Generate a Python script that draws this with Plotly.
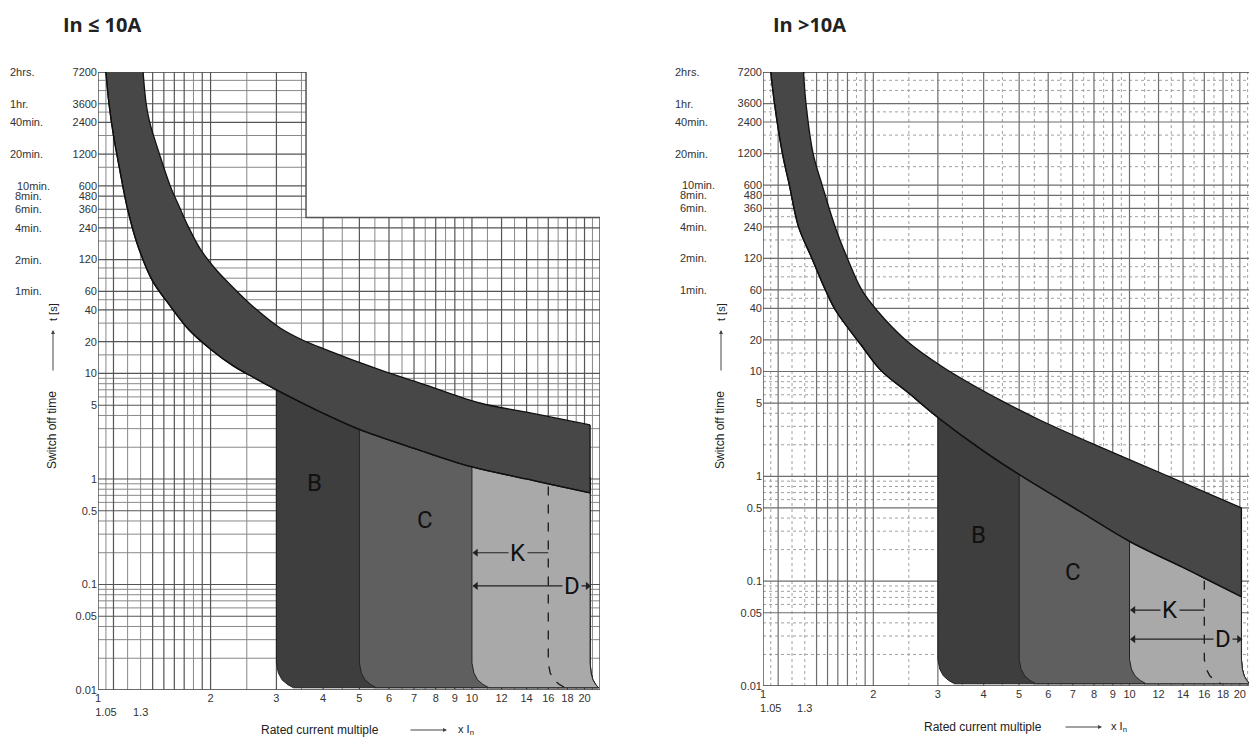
import numpy as np
import plotly.graph_objects as go

# --- оси и подписи ---
y_ticks = [0.01, 0.05, 0.1, 0.5, 1, 5, 10, 20, 40, 60, 120, 240, 360, 480, 600, 1200, 2400, 3600, 7200]
y_tick_text = ["0.01", "0.05", "0.1", "0.5", "1", "5", "10", "20", "40", "60",
               "120", "240", "360", "480", "600", "1200", "2400", "3600", "7200"]
time_names = ["2hrs.", "1hr.", "40min.", "20min.", "10min.", "8min.", "6min.", "4min.", "2min.", "1min."]
time_name_vals = [7200, 3600, 2400, 1200, 600, 480, 360, 240, 120, 60]
x_ticks = [1, 1.05, 1.3, 2, 3, 4, 5, 6, 7, 8, 9, 10, 12, 14, 16, 18, 20]
x_tick_text = ["1", "<br>1.05", "<br>1.3", "2", "3", "4", "5", "6", "7", "8", "9",
               "10", "12", "14", "16", "18", "20"]

# сетка
grid_x_major = [1.1, 1.4, 1.5, 1.6, 1.7, 1.9, 2, 3, 4, 5, 6, 7, 8, 9, 10, 12, 14, 16, 18, 20]
grid_x_minor = [1.05, 1.2, 1.3, 1.8, 2.5, 3.5, 4.5, 5.5, 6.5, 7.5, 8.5, 9.5, 11, 13, 15, 17, 19, 21]
grid_t_major = [0.01, 0.05, 0.1, 0.5, 1, 5, 10, 20, 40, 60, 120, 240, 360, 480, 600, 1200, 2400, 3600, 7200]
grid_t_minor = [0.02, 0.03, 0.04, 0.06, 0.07, 0.08, 0.09, 0.2, 0.3, 0.4, 0.6, 0.7, 0.8, 0.9,
                2, 3, 4, 6, 7, 8, 9, 15, 30, 50, 80, 100, 180, 300, 900, 1800, 3000, 4800, 6000]

# --- In <= 10A ---
left_upper_x = [1.32, 1.345, 1.375, 1.46, 1.56, 1.65, 1.75, 1.88, 2.05, 2.3, 2.6, 3.07, 3.5, 4.0,
                5.68, 7.5, 10.5, 14.0, 20.7]
left_upper_t = [7200, 3600, 2400, 1200, 600, 380, 240, 150, 100, 65, 43, 27, 21, 17.2,
                10.8, 7.8, 5.25, 4.3, 3.25]
left_lower_x = [1.05, 1.07, 1.10, 1.14, 1.20, 1.28, 1.40, 1.55, 1.75, 2.0, 2.3, 2.6, 3.0, 4.0, 5.0,
                7.0, 10.0, 14.0, 16.0, 20.7]
left_lower_t = [7200, 3600, 1800, 900, 360, 160, 75, 45, 26, 17, 11.8, 9.2, 7.0, 4.2, 2.95,
                1.95, 1.3, 1.0, 0.90, 0.74]
left_step_x, left_step_t = 3.6, 300
left_k_t, left_d_t = 0.20, 0.097
left_labels = {"B": (3.8, 0.92), "C": (7.5, 0.41), "K": (13.3, 0.20), "D": (18.5, 0.097)}

# --- In > 10A ---
right_upper_x = [1.29, 1.31, 1.37, 1.45, 1.58, 1.70, 1.86, 2.05, 2.45, 3.1, 4.43, 5.69, 8.3, 12.0, 20.2]
right_upper_t = [7200, 3600, 1200, 600, 230, 120, 60, 38, 20, 11, 5.36, 3.45, 1.91, 1.10, 0.50]
right_lower_x = [1.05, 1.075, 1.13, 1.18, 1.25, 1.36, 1.48, 1.58, 1.85, 2.1, 2.5, 3.0, 4.0, 5.0,
                 7.5, 10.0, 14.0, 16.0, 20.2]
right_lower_t = [7200, 3600, 1200, 600, 240, 120, 60, 38, 18, 10.2, 6.2, 3.65, 1.74, 1.04,
                 0.44, 0.24, 0.135, 0.107, 0.071]
right_k_t, right_d_t = 0.053, 0.028
right_labels = {"B": (3.88, 0.276), "C": (7.0, 0.122), "K": (12.9, 0.053), "D": (18.0, 0.028)}

# границы зон мгновенного расцепления
zone_edges = [3, 5, 10]
k_edge = 16
corner_t = [0.018, 0.0145, 0.0125, 0.0113, 0.0105]
corner_xf = [1.0, 1.012, 1.035, 1.07, 1.11]

X_MAX = 22
T_MIN, T_MAX = 0.01, 7200
HIDE = 1.4  # зоны заходят под полосу, чтобы не было щелей

band_color = "#474747"
zone_colors = ["#3e3e3e", "#5f5f5f", "#a9a9a9"]
edge_color = "#222222"
font_family = "Liberation Sans, Arial, sans-serif"

# страница имеет отступ 8px у body
OFF = 8
PAGE_W, PAGE_H = 1257, 743
W, H = PAGE_W - OFF, PAGE_H - OFF
left_px = dict(x0=98, x1=600, y0=72, y1=690)
right_px = dict(x0=763, x1=1255, y0=72, y1=686)
time_name_px = [8, 8, 8, 8, 15, 13, 13, 13, 13, 13]
right_shift_px = 665


def px_x(p):
    return (p - OFF) / W


def px_y(p):
    return 1 - (p - OFF) / H


fig = go.Figure()


def grid_lines(values, vertical, xref, yref, color, width, dash, step=None):
    xs, ys = [], []
    for v in values:
        if vertical:
            top = T_MAX if (step is None or v <= step[0]) else step[1]
            xs += [v, v, None]
            ys += [T_MIN, top, None]
        else:
            right = X_MAX if (step is None or v <= step[1]) else step[0]
            xs += [1, right, None]
            ys += [v, v, None]
    fig.add_trace(go.Scatter(x=xs, y=ys, mode="lines", xaxis=xref, yaxis=yref,
                             line=dict(color=color, width=width, dash=dash),
                             hoverinfo="skip"))


def zone_polygon(xb, xe, lx, lt):
    top = [(x, t * HIDE) for x, t in zip(lx, lt) if xb <= x <= xe]
    xs = [p[0] for p in top]
    ys = [p[1] for p in top]
    for ct, f in zip(corner_t, corner_xf):
        xs.append(xe * f ** 0.5)
        ys.append(ct)
    for ct, f in reversed(list(zip(corner_t, corner_xf))):
        xs.append(xb * f)
        ys.append(ct)
    xs.append(xs[0])
    ys.append(ys[0])
    return xs, ys


def draw_chart(ux, ut, lx, lt, xref, yref, step, k_t, d_t, labels, grid_style):
    major_c, minor_c, minor_dash = grid_style
    grid_lines(grid_x_minor, True, xref, yref, minor_c, 1, minor_dash, step)
    grid_lines(grid_t_minor, False, xref, yref, minor_c, 1, minor_dash, step)
    grid_lines(grid_x_major, True, xref, yref, major_c, 1.2, "solid", step)
    grid_lines(grid_t_major, False, xref, yref, major_c, 1.2, "solid", step)

    # рамка
    if step is None:
        fx = [1, 1, X_MAX, X_MAX, 1]
        fy = [T_MIN, T_MAX, T_MAX, T_MIN, T_MIN]
    else:
        fx = [1, 1, step[0], step[0], X_MAX, X_MAX, 1]
        fy = [T_MIN, T_MAX, T_MAX, step[1], step[1], T_MIN, T_MIN]
    fig.add_trace(go.Scatter(x=fx, y=fy, mode="lines", xaxis=xref, yaxis=yref,
                             line=dict(color="#555555", width=1.5), hoverinfo="skip"))

    x_end = lx[-1]
    # зоны B, C, K/D
    for xb, col in zip(zone_edges, zone_colors):
        zx, zy = zone_polygon(xb, x_end, lx, lt)
        fig.add_trace(go.Scatter(x=zx, y=zy, mode="lines", fill="toself", fillcolor=col,
                                 xaxis=xref, yaxis=yref,
                                 line=dict(color=edge_color, width=1), hoverinfo="skip"))

    # пунктир K
    t16 = lt[lx.index(k_edge)] * HIDE
    kx = [k_edge] + [k_edge * f for f in corner_xf]
    ky = [t16] + corner_t
    fig.add_trace(go.Scatter(x=kx, y=ky, mode="lines", xaxis=xref, yaxis=yref,
                             line=dict(color="#1a1a1a", width=1.3, dash="dash"), hoverinfo="skip"))

    # тепловая полоса: нижняя кривая, затем верхняя с заливкой между ними
    curve_line = dict(color="#111111", width=1.3, shape="spline", smoothing=1)
    fig.add_trace(go.Scatter(x=lx, y=lt, mode="lines", xaxis=xref, yaxis=yref,
                             line=curve_line, hoverinfo="skip"))
    fig.add_trace(go.Scatter(x=ux, y=ut, mode="lines", xaxis=xref, yaxis=yref,
                             fill="tonexty", fillcolor=band_color,
                             line=curve_line, hoverinfo="skip"))
    fig.add_trace(go.Scatter(x=lx, y=lt, mode="lines", xaxis=xref, yaxis=yref,
                             line=curve_line, hoverinfo="skip"))
    # правый торец полосы
    fig.add_trace(go.Scatter(x=[ux[-1], lx[-1]], y=[ut[-1], lt[-1]], mode="lines",
                             xaxis=xref, yaxis=yref,
                             line=dict(color="#111111", width=1.3), hoverinfo="skip"))

    # линии K и D
    for t, xe in [(k_t, k_edge), (d_t, x_end)]:
        fig.add_trace(go.Scatter(x=[10.1, xe], y=[t, t], mode="lines", xaxis=xref, yaxis=yref,
                                 line=dict(color="#222222", width=1.2), hoverinfo="skip"))
    fig.add_trace(go.Scatter(x=[10.25, 10.25, x_end * 0.985], y=[k_t, d_t, d_t], mode="markers",
                             xaxis=xref, yaxis=yref,
                             marker=dict(symbol=["triangle-left", "triangle-left", "triangle-right"],
                                         size=7, color="#222222"),
                             hoverinfo="skip"))

    ax_name = "x" if xref == "x" else "x2"
    ay_name = "y" if yref == "y" else "y2"
    for name, (x, t) in labels.items():
        bg = zone_colors[2] if name in ("K", "D") else None
        fig.add_annotation(x=np.log10(x), y=np.log10(t), xref=ax_name, yref=ay_name,
                           text=name, showarrow=False, bgcolor=bg, borderpad=1,
                           xanchor="center", yanchor="middle",
                           font=dict(family="Roboto, sans-serif", size=24, color="#111111"))


draw_chart(left_upper_x, left_upper_t, left_lower_x, left_lower_t, "x", "y",
           (left_step_x, left_step_t), left_k_t, left_d_t, left_labels,
           ("#555555", "#888888", "solid"))
draw_chart(right_upper_x, right_upper_t, right_lower_x, right_lower_t, "x2", "y2",
           None, right_k_t, right_d_t, right_labels,
           ("#6e6e6e", "#a0a0a0", "dot"))

axis_common = dict(type="log", showgrid=False, zeroline=False, showline=False, ticks="",
                   automargin=False, tickangle=0,
                   tickfont=dict(family=font_family, size=11, color="#333333"))
fig.update_layout(
    width=W, height=H, margin=dict(l=0, r=0, t=0, b=0),
    paper_bgcolor="white", plot_bgcolor="white", showlegend=False,
    xaxis=dict(domain=[px_x(left_px["x0"]), px_x(left_px["x1"])], range=[0, np.log10(X_MAX)],
               tickmode="array", tickvals=x_ticks, ticktext=x_tick_text, anchor="y", **axis_common),
    yaxis=dict(domain=[px_y(left_px["y1"]), px_y(left_px["y0"])],
               range=[np.log10(T_MIN), np.log10(T_MAX)],
               tickmode="array", tickvals=y_ticks, ticktext=y_tick_text, anchor="x", **axis_common),
    xaxis2=dict(domain=[px_x(right_px["x0"]), px_x(right_px["x1"])], range=[0, np.log10(X_MAX)],
                tickmode="array", tickvals=x_ticks, ticktext=x_tick_text, anchor="y2", **axis_common),
    yaxis2=dict(domain=[px_y(right_px["y1"]), px_y(right_px["y0"])],
                range=[np.log10(T_MIN), np.log10(T_MAX)],
                tickmode="array", tickvals=y_ticks, ticktext=y_tick_text, anchor="x2", **axis_common),
)


def page_text(text, cx, cy, size, angle=0, bold=False, family=font_family):
    fig.add_annotation(x=px_x(cx), y=px_y(cy), xref="paper", yref="paper",
                       text="<b>" + text + "</b>" if bold else text,
                       showarrow=False, xanchor="center", yanchor="middle", textangle=angle,
                       font=dict(family=family, size=size, color="#222222"))


def page_arrow(hx, hy, ax, ay):
    fig.add_annotation(x=px_x(hx), y=px_y(hy), xref="paper", yref="paper", text="",
                       showarrow=True, ax=ax, ay=ay, arrowhead=2, arrowsize=0.8, arrowwidth=1,
                       arrowcolor="#444444")


# заголовки
page_text("In ≤ 10A", 102, 25, 20, bold=True, family="Open Sans, sans-serif")
page_text("In >10A", 810, 25, 20, bold=True, family="Open Sans, sans-serif")

# подписи времени слева
for yref, shift in [("y", 0), ("y2", right_shift_px)]:
    for name, v, lx_px in zip(time_names, time_name_vals, time_name_px):
        fig.add_annotation(x=px_x(lx_px + shift), y=np.log10(v), xref="paper", yref=yref, text=name,
                           showarrow=False, xanchor="left", yanchor="middle",
                           font=dict(family=font_family, size=11, color="#333333"))

# подписи осей
for cx in [52, 720]:
    page_text("Switch off time", cx, 430, 12, angle=-90)
    page_text("t [s]", cx + 1, 312, 11, angle=-90)
    page_arrow(cx + 1, 330, 0, 42)

for c_text, head, c_in, cy in [(320, 447, 466, 730), (983, 1102, 1119, 727)]:
    page_text("Rated current multiple", c_text, cy, 12)
    page_arrow(head, cy, -38, 0)
    page_text("x I<sub>n</sub>", c_in, cy, 11)

fig.write_html("out.html")
